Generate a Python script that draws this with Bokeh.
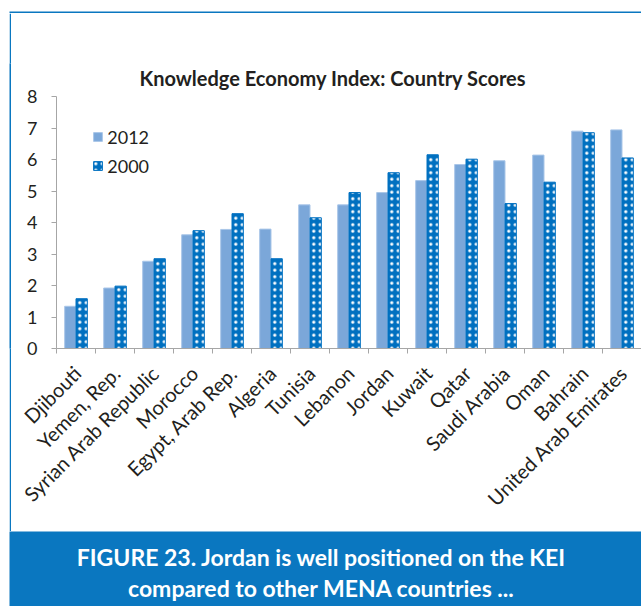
from math import pi
from bokeh.plotting import figure
from bokeh.layouts import column, row
from bokeh.models import (Range1d, FixedTicker, Label, Legend, LegendItem, Spacer,
                          ColumnDataSource, CustomJSTickFormatter)
from bokeh.embed import file_html
from bokeh.resources import INLINE

# ---------------- data ----------------
countries = ["Djibouti", "Yemen, Rep.", "Syrian Arab Republic", "Morocco", "Egypt, Arab Rep.",
             "Algeria", "Tunisia", "Lebanon", "Jordan", "Kuwait", "Qatar", "Saudi Arabia",
             "Oman", "Bahrain", "United Arab Emirates"]
kei_2012 = [1.34, 1.92, 2.77, 3.61, 3.78, 3.79, 4.56, 4.56, 4.95, 5.33, 5.84, 5.96, 6.14, 6.90, 6.94]
kei_2000 = [1.58, 1.98, 2.85, 3.74, 4.28, 2.85, 4.15, 4.95, 5.58, 6.15, 6.01, 4.60, 5.28, 6.85, 6.05]
series_names = ["2012", "2000"]
y_ticks = [0, 1, 2, 3, 4, 5, 6, 7, 8]
title_text = "Knowledge Economy Index: Country Scores"
caption_lines = ["FIGURE 23. Jordan is well positioned on the KEI",
                 "compared to other MENA countries ..."]

# ---------------- styling ----------------
FONT = "Lato"
TXT = "#231f20"
AXIS = "#a6a6a6"
C2012 = "#7ba7d9"
C2000 = "#0070c0"
BLUE = "#0a77c0"

PAGE_W, PAGE_H = 641, 606


def deco(w, h, fill):
    """A bare figure whose frame covers its whole canvas (pixel data units)."""
    f = figure(width=w, height=h, output_backend="svg", toolbar_location=None,
               x_axis_location=None, y_axis_location=None, min_border=0, title=None,
               x_range=Range1d(0, w), y_range=Range1d(0, h))
    f.background_fill_color = fill
    f.border_fill_color = fill
    f.outline_line_color = None
    f.grid.visible = False
    return f


# layout geometry (page pixels)
LINE_X0, LINE_W = 9, 2
LINE_Y0, LINE_H = 11, 2
BAND_TOP = 531
CHART_X, CHART_Y = LINE_X0 + LINE_W, LINE_Y0 + LINE_H
CW, CH = PAGE_W - CHART_X, BAND_TOP - CHART_Y
FL, FT = 56 - CHART_X, 50
Y0_PAGE, Y8_PAGE = 348, 96
px_per_unit = (Y0_PAGE - Y8_PAGE) / 8
FH = Y0_PAGE - (CHART_Y + FT)
y_top = FH / px_per_unit

p = figure(width=CW, height=CH, x_range=Range1d(0, len(countries)), y_range=Range1d(0, y_top),
           output_backend="svg", toolbar_location=None, title=None,
           min_border_left=FL, min_border_right=0, min_border_top=FT,
           min_border_bottom=CH - FT - FH)
p.xgrid.visible = False
p.ygrid.visible = False
p.outline_line_color = None
p.background_fill_color = "white"
p.border_fill_color = "white"

FRAME_LEFT_PAGE = CHART_X + FL


def sx(px):
    return px - FRAME_LEFT_PAGE


def sy(py):
    return Y0_PAGE - py


# ---------------- bars ----------------
n = len(countries)
idx = list(range(n))
bw = 0.29
src = ColumnDataSource(dict(
    x12=[i + 0.5 - bw / 2 for i in idx],
    x00=[i + 0.5 + bw / 2 for i in idx],
    v12=kei_2012, v00=kei_2000))
r12 = p.vbar(x="x12", top="v12", width=bw, source=src, fill_color=C2012,
             line_color="#a9c6e8", line_width=1)
r00 = p.vbar(x="x00", top="v00", width=bw, source=src, fill_color=C2000,
             line_color=C2000, line_width=1,
             hatch_pattern=".", hatch_color="white", hatch_scale=6.5, hatch_weight=1)

# ---------------- axes ----------------
ya = p.yaxis[0]
ya.ticker = FixedTicker(ticks=y_ticks, minor_ticks=[])
ya.bounds = (y_ticks[0], y_ticks[-1])
ya.axis_line_color = AXIS
ya.major_tick_line_color = AXIS
ya.major_tick_out = 5
ya.major_tick_in = 0
ya.minor_tick_line_color = None
ya.major_label_text_font = FONT
ya.major_label_text_font_size = "18px"
ya.major_label_text_color = TXT
ya.major_label_standoff = 14

xa = p.xaxis[0]
label_shift = 0.03
xa.ticker = FixedTicker(ticks=[i + 0.5 + label_shift for i in idx], minor_ticks=list(range(n + 1)))
xa.formatter = CustomJSTickFormatter(args=dict(names=countries),
                                     code="return names[Math.floor(tick)] || ''")
xa.axis_line_color = AXIS
xa.major_tick_line_color = None
xa.major_tick_out = 0
xa.major_tick_in = 0
xa.minor_tick_line_color = AXIS
xa.minor_tick_out = 5
xa.minor_tick_in = 0
xa.major_label_orientation = pi / 4
xa.major_label_text_font = FONT
xa.major_label_text_font_size = "20px"
xa.major_label_text_color = TXT
xa.major_label_standoff = 16

# ---------------- title ----------------
p.add_layout(Label(x=sx(332.5), y=sy(77.5), x_units="screen", y_units="screen",
                   text=title_text, text_align="center", text_baseline="middle",
                   text_font=FONT, text_font_style="bold", text_font_size="20px",
                   text_color=TXT))

# ---------------- legend ----------------
legend = Legend(items=[LegendItem(label=series_names[0], renderers=[r12]),
                       LegendItem(label=series_names[1], renderers=[r00])],
                location=(36.3, 171.2), orientation="vertical",
                glyph_width=11, glyph_height=11, label_height=22, spacing=7,
                label_standoff=4, padding=0, margin=0,
                border_line_color=None, background_fill_alpha=0,
                label_text_font=FONT, label_text_font_size="18px", label_text_color=TXT)
p.add_layout(legend)

# ---------------- frame lines (top and left) ----------------
top_deco = deco(PAGE_W, CHART_Y, "white")
top_deco.quad(left=[LINE_X0], right=[PAGE_W], bottom=[0], top=[LINE_H],
              fill_color=BLUE, line_color=None)
left_line = deco(LINE_W, CH, BLUE)          # fully blue strip

# ---------------- caption band ----------------
BAND_W, BAND_H = PAGE_W - LINE_X0, PAGE_H - BAND_TOP
band = deco(BAND_W, BAND_H, BLUE)
for line, mid in zip(caption_lines, [556.5, 587]):
    band.add_layout(Label(x=321 - LINE_X0, y=PAGE_H - mid, x_units="screen", y_units="screen",
                          text=line, text_align="center", text_baseline="middle",
                          text_font=FONT, text_font_style="bold", text_font_size="23px",
                          text_color="white"))

root = column(
    top_deco,
    row(Spacer(width=LINE_X0, height=CH), left_line, p),
    row(Spacer(width=LINE_X0, height=BAND_H), band),
)

open("out.html", "w").write(file_html(root, INLINE))
